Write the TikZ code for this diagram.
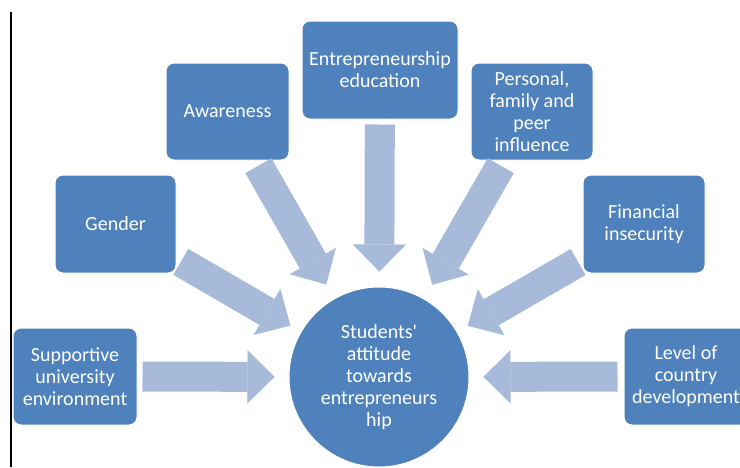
\documentclass[tikz,border=0pt]{standalone}
\usepackage{fontspec}
\setmainfont{Carlito}
\usetikzlibrary{arrows.meta}
\definecolor{boxblue}{RGB}{79,129,189}
\definecolor{arrowblue}{RGB}{168,186,218}
\begin{document}
\begin{tikzpicture}[x=1pt,y=-1pt,
  box/.style={draw=white, line width=1pt, rectangle, rounded corners=8pt, fill=boxblue, text=white,
    align=center, inner sep=0pt, font=\fontsize{20}{22}\selectfont},
  hub/.style={box, circle, rounded corners=0pt, minimum size=180pt},
  arr/.style={arrowblue, line width=30pt, -{Triangle[length=27pt, width=53pt, line width=0.01pt]}}]
\useasboundingbox (0,0) rectangle (740,467);
\draw[line width=2pt] (11,12) -- (11,467);
\node[hub] (att) at (379,377){Students\textquotesingle\\attitude\\towards\\entrepreneurs\\hip};
\node[box, minimum width=156pt, minimum height=98pt] (edu) at (380,70){Entrepreneurship\\education};
\node[box, minimum width=123pt, minimum height=97pt] (aware) at (227.5,111.5){Awareness};
\node[box, minimum width=122pt, minimum height=97pt] (pers) at (532,111.5){Personal,\\family and\\peer\\influence};
\node[box, minimum width=121pt, minimum height=98pt] (gend) at (115.5,224){Gender};
\node[box, minimum width=122pt, minimum height=98pt] (fin) at (644,224){Financial\\insecurity};
\node[box, minimum width=124pt, minimum height=97pt] (supp) at (75,376.5){Supportive\\university\\environment};
\node[box, minimum width=124pt, minimum height=97pt] (level) at (686,376.5){Level of\\country\\development};
\draw[arr, shorten <=5pt, shorten >=15pt] (edu) -- (att);
\draw[arr, shorten <=6pt, shorten >=16pt] (aware) -- (att);
\draw[arr, shorten <=6pt, shorten >=16pt] (pers) -- (att);
\draw[arr, shorten <=5pt, shorten >=12pt] (gend) -- (att);
\draw[arr, shorten <=5pt, shorten >=12pt] (fin) -- (att);
\draw[arr, shorten <=5pt, shorten >=14pt] (supp) -- (att);
\draw[arr, shorten <=6pt, shorten >=14pt] (level) -- (att);
\end{tikzpicture}
\end{document}
